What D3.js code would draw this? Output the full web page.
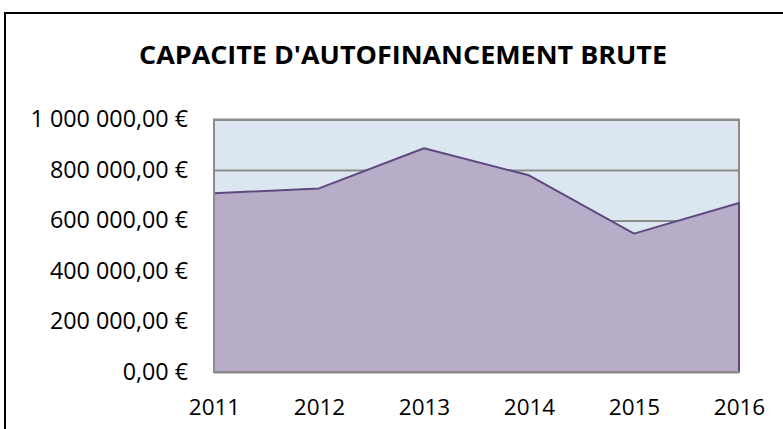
<!DOCTYPE html>
<html>
<head>
<meta charset="UTF-8">
<script src="https://d3js.org/d3.v7.min.js"></script>
<style>
  body { margin: 0; background: #fff; }
  svg text { font-family: "Open Sans", sans-serif; fill: #000; }
</style>
</head>
<body>
<div id="chart"></div>
<script>
// data
var years = ["2011", "2012", "2013", "2014", "2015", "2016"];
var cafValues = [708000, 727000, 886000, 779000, 548000, 669000];
var yTicks = [0, 200000, 400000, 600000, 800000, 1000000];
var title = "CAPACITE D'AUTOFINANCEMENT BRUTE";

var W = 783, H = 429;
var plot = { left: 214, right: 739, top: 119.5, bottom: 372 };

var svg = d3.select("#chart").append("svg")
    .attr("width", W)
    .attr("height", H);

// outer chart frame (runs past the right and bottom edges)
svg.append("rect")
    .attr("x", 5).attr("y", 13)
    .attr("width", 820).attr("height", 460)
    .attr("fill", "#fff")
    .attr("stroke", "#000")
    .attr("stroke-width", 2);

// title
svg.append("text")
    .attr("x", 403)
    .attr("y", 64)
    .attr("text-anchor", "middle")
    .attr("textLength", 528)
    .attr("lengthAdjust", "spacingAndGlyphs")
    .style("font-size", "25px")
    .style("font-weight", "bold")
    .text(title);

var x = d3.scalePoint().domain(years).range([plot.left, plot.right]);
var y = d3.scaleLinear().domain([0, 1000000]).range([plot.bottom, plot.top]);

var fr = d3.formatLocale({ decimal: ",", thousands: " ", grouping: [3], currency: ["", " €"] });
var euro = fr.format("$,.2f");

// plot area background
svg.append("rect")
    .attr("x", plot.left).attr("y", plot.top)
    .attr("width", plot.right - plot.left)
    .attr("height", plot.bottom - plot.top)
    .attr("fill", "#dce6f1")
    .attr("stroke", "#8c8c8c")
    .attr("stroke-width", 2);

// gridlines
svg.append("g")
    .attr("transform", "translate(" + plot.left + ",0)")
    .call(d3.axisLeft(y).tickValues(yTicks).tickSize(-(plot.right - plot.left)).tickFormat(""))
    .call(function (g) { g.select(".domain").remove(); })
    .selectAll("line")
    .attr("stroke", "#8c8c8c")
    .attr("stroke-width", 2);

// area
var area = d3.area()
    .x(function (d, i) { return x(years[i]); })
    .y0(y(0))
    .y1(function (d) { return y(d); });

svg.append("path")
    .datum(cafValues)
    .attr("d", area)
    .attr("fill", "#b8adc9");

// series outline: top line plus the right edge
var line = d3.line()
    .x(function (d, i) { return x(years[i]); })
    .y(function (d) { return y(d); });

svg.append("path")
    .attr("d", line(cafValues) + "L" + x(years[years.length - 1]) + "," + y(0))
    .attr("fill", "none")
    .attr("stroke", "#5e4a7e")
    .attr("stroke-width", 2)
    .attr("stroke-linejoin", "round");

// left and bottom plot edges on top
svg.append("line")
    .attr("x1", plot.left).attr("x2", plot.left)
    .attr("y1", plot.top).attr("y2", plot.bottom)
    .attr("stroke", "#8c8c8c").attr("stroke-width", 2);
svg.append("line")
    .attr("x1", plot.left).attr("x2", plot.right)
    .attr("y1", plot.bottom).attr("y2", plot.bottom)
    .attr("stroke", "#8c8c8c").attr("stroke-width", 2);

// y axis labels
var yAxis = svg.append("g")
    .attr("transform", "translate(" + plot.left + ",0)")
    .call(d3.axisLeft(y).tickValues(yTicks).tickSize(0).tickPadding(26).tickFormat(euro));
yAxis.select(".domain").remove();
yAxis.selectAll("text")
    .style("font-size", "23.3px")
    .style("font-family", "'Open Sans', sans-serif")
    .attr("fill", "#000");

// x axis labels
var xAxis = svg.append("g")
    .attr("transform", "translate(0," + plot.bottom + ")")
    .call(d3.axisBottom(x).tickSize(0).tickPadding(27));
xAxis.select(".domain").remove();
xAxis.selectAll("text")
    .style("font-size", "22.5px")
    .style("font-family", "'Open Sans', sans-serif")
    .attr("fill", "#000");
</script>
</body>
</html>
